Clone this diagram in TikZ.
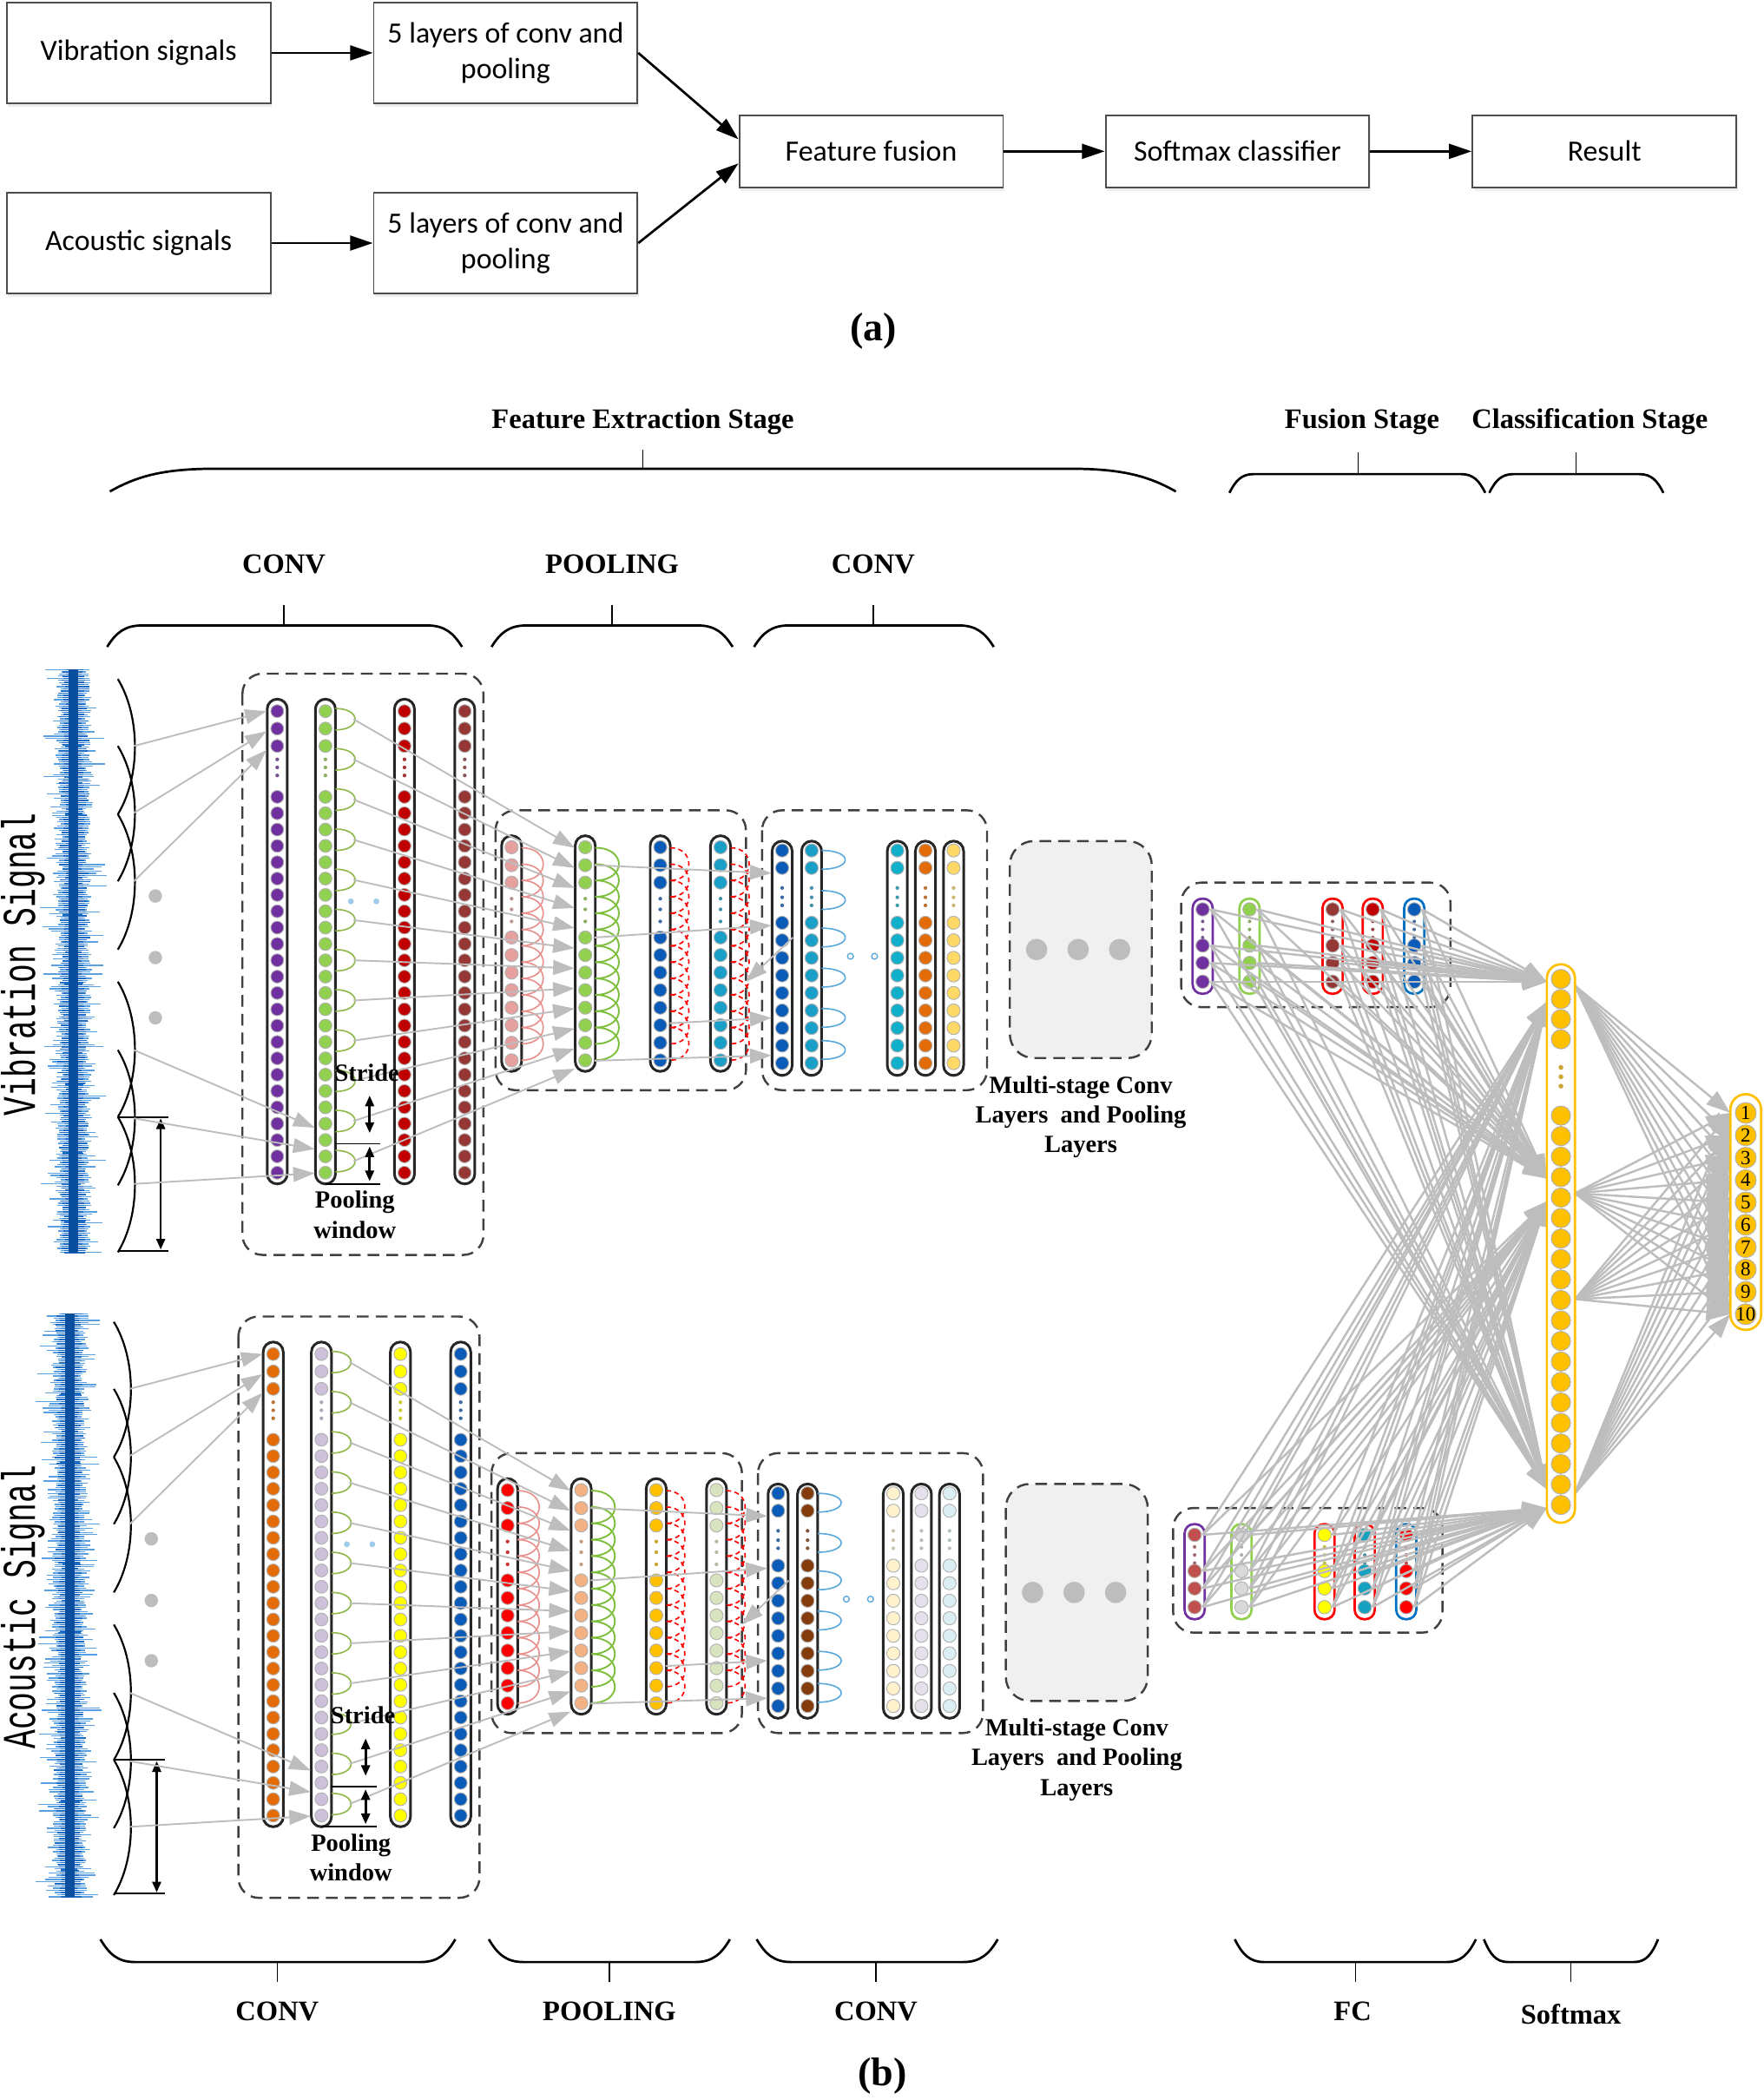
\documentclass[tikz,border=0pt]{standalone}
\usepackage{fontspec}
\usepackage{graphicx}
\setmainfont{Liberation Serif}
\newfontfamily\calfont{Carlito}
\newfontfamily\monofont{Liberation Mono}
\usetikzlibrary{arrows.meta,calc,shadows}

\definecolor{lgray}{HTML}{BDBDBD}
\definecolor{boxedge}{HTML}{404040}
\definecolor{multigray}{HTML}{F0F0F0}
\definecolor{arcgreen}{HTML}{8FB84A}
\definecolor{arcgreentwo}{HTML}{7DBF3C}
\definecolor{arcsalmon}{HTML}{E8908C}
\definecolor{arcblue}{HTML}{5BA8DA}
\definecolor{wavelight}{HTML}{5A9FE0}
\definecolor{wavemid}{HTML}{1A6CC4}
\definecolor{wavedark}{HTML}{0A4E9E}
\definecolor{vpurple}{HTML}{7030A0}
\definecolor{vgreen}{HTML}{92D050}
\definecolor{dred}{HTML}{C00000}
\definecolor{vbrown}{HTML}{953735}
\definecolor{salmonc}{HTML}{E6A09E}
\definecolor{dblue}{HTML}{0B5CB8}
\definecolor{tealone}{HTML}{1AA0C8}
\definecolor{tealtwo}{HTML}{12AFCB}
\definecolor{vorange}{HTML}{E36C09}
\definecolor{lyellow}{HTML}{FFD966}
\definecolor{lavender}{HTML}{CCC0DA}
\definecolor{yel}{HTML}{FFFF00}
\definecolor{bred}{HTML}{FF0000}
\definecolor{lorange}{HTML}{F4B183}
\definecolor{goldc}{HTML}{FFC000}
\definecolor{sage}{HTML}{D7E4BD}
\definecolor{dbrown}{HTML}{843C0C}
\definecolor{cream}{HTML}{FFF2CC}
\definecolor{llav}{HTML}{E6E0EC}
\definecolor{lblue}{HTML}{DAEEF3}
\definecolor{rbrown}{HTML}{C0504D}
\definecolor{lgraytwo}{HTML}{D9D9D9}
\definecolor{fteal}{HTML}{17A0C0}
\definecolor{oblue}{HTML}{0070C0}

\tikzset{
  abox/.style={draw=black!70, line width=0.7pt, fill=white,
    font=\calfont\fontsize{12.5}{15.3}\selectfont, align=center, inner sep=0pt,
    drop shadow={opacity=0.15, shadow xshift=0.6pt, shadow yshift=-1.4pt}},
  aarrow/.style={draw=black, line width=1pt, arrows={-Triangle[length=0.34cm,width=0.22cm]}},
  blbl/.style={font=\bfseries\fontsize{12}{14}\selectfont},
  slbl/.style={font=\bfseries\fontsize{10.5}{12.7}\selectfont, align=center, inner sep=0pt},
  bracep/.style={draw=black, line width=1pt},
  tickln/.style={draw=black, line width=0.5pt},
  dbox/.style={draw=boxedge, line width=0.9pt, dash pattern=on 5pt off 3pt, rounded corners=0.3cm},
  caps/.style={draw=black!85, line width=1.1pt, fill=white, rounded corners=0.15cm},
  neur/.style={draw=black!30, line width=0.35pt},
  glink/.style={draw=lgray, line width=0.7pt, arrows={-Triangle[length=0.32cm,width=0.22cm]}},
  flink/.style={draw=lgray, line width=0.9pt, arrows={-Triangle[length=0.36cm,width=0.25cm]}},
  winarc/.style={draw=black, line width=0.8pt},
  dimarr/.style={draw=black, line width=1pt, arrows={Triangle[length=0.16cm,width=0.13cm]-Triangle[length=0.16cm,width=0.13cm]}},
  rdash/.style={draw=red, line width=0.6pt, dash pattern=on 2pt off 1.5pt},
}

% column: x, ytop, ybot, colour, circle ys, dot ys, half width, radius
\newcommand\ncol[8]{%
  \draw[caps] ({#1-#7},#2) rectangle ({#1+#7},#3);
  \foreach \yy in {#5} \draw[neur,fill=#4] (#1,\yy) circle[radius=#8];
  \foreach \yy in {#6} \fill[#4!60!gray] (#1,\yy) circle[radius=1.4];
}

% brace: x1, x2, y of flat part, y of ends, curve width, tick x, tick end y
\newcommand\brc[7]{%
  \draw[bracep] (#1,#4) .. controls ({#1+0.25*#5},{#3+0.35*(#4-#3)}) and ({#1+0.5*#5},#3) .. ({#1+#5},#3)
     -- ({#2-#5},#3) .. controls ({#2-0.5*#5},#3) and ({#2-0.25*#5},{#3+0.35*(#4-#3)}) .. (#2,#4);
  \draw[tickln] (#6,#3) -- (#6,#7);
}

% waveform: x centre, y top, count, seed
\newcommand\wave[4]{%
  \pgfmathsetseed{#4}%
  \foreach \i in {0,...,#3} {%
    \pgfmathsetmacro\yy{#2+1.6*\i}%
    \pgfmathsetmacro\wl{8+5*rnd+13*pow(rnd,5)}%
    \pgfmathsetmacro\wr{8+5*rnd+13*pow(rnd,5)}%
    \draw[wavelight,line width=0.5pt] ({#1-\wl},\yy) -- ({#1+\wr},\yy);
  }%
  \foreach \i in {0,...,#3} {%
    \pgfmathsetmacro\yy{#2+1.6*\i}%
    \pgfmathsetmacro\wl{5.5+3*rnd+4*pow(rnd,4)}%
    \pgfmathsetmacro\wr{5.5+3*rnd+4*pow(rnd,4)}%
    \draw[wavemid,line width=0.55pt] ({#1-\wl},\yy) -- ({#1+\wr},\yy);
  }%
  \fill[wavedark] ({#1-3.5},#2) rectangle ({#1+3.5},{#2+1.6*#3});
}

\newcommand\branch[1]{%
  \draw[dbox] (181,503) rectangle (361,937);
  \foreach \ta/\tb in {507/608,557/658,608/709,733/834,784/885,834/935}
    \draw[winarc] (88,\ta) .. controls (105,{\ta+28}) and (105,{\tb-28}) .. (88,\tb);
  \foreach \yy in {669,715,760} \fill[lgray] (116,\yy) circle[radius=5];
  \draw[line width=0.7pt] (88,834) -- (126,834) (88,934) -- (126,934);
  \draw[dimarr] (120,835) -- (120,933);
  \ncol{207}{522}{884}{cA}{531,544,557,595,607.2,...,877}{567,573,579}{7.5}{4.8}
  \ncol{243}{522}{884}{cB}{531,544,557,595,607.2,...,877}{567,573,579}{7.5}{4.8}
  \ncol{302}{522}{884}{cC}{531,544,557,595,607.2,...,877}{567,573,579}{7.5}{4.8}
  \ncol{347}{522}{884}{cD}{531,544,557,595,607.2,...,877}{567,573,579}{7.5}{4.8}
  \foreach \k in {0,...,11}
    \draw[arcgreen,line width=0.6pt] (250.5,{529+30*\k}) .. controls (270,{529+30*\k}) and (270,{545+30*\k}) .. (250.5,{545+30*\k});
  \fill[arcblue!60] (262,673) circle[radius=2.2] (281,673) circle[radius=2.2];
  % pooling box
  \draw[dbox] (370,605) rectangle (557,814);
  \ncol{382}{624}{800}{pA}{632.6,646,659,700,713.1,...,793}{671,679,688}{7.5}{4.9}
  \ncol{437}{624}{800}{pB}{632.6,646,659,700,713.1,...,793}{671,679,688}{7.5}{4.9}
  \ncol{493}{624}{800}{pC}{632.6,646,659,700,713.1,...,793}{671,679,688}{7.5}{4.9}
  \ncol{538}{624}{800}{pD}{632.6,646,659,700,713.1,...,793}{671,679,688}{7.5}{4.9}
  \foreach \jj in {0,...,11} {%
    \pgfmathsetmacro\ya{633+12.2*\jj}\pgfmathsetmacro\yb{\ya+24.4}%
    \draw[arcsalmon,line width=0.6pt] (389.5,\ya) .. controls (411,\ya) and (411,\yb) .. (389.5,\yb);
    \draw[arcgreentwo,line width=0.7pt] (444.5,\ya) .. controls (468,\ya) and (468,\yb) .. (444.5,\yb);
    \draw[rdash] (500.5,\ya) .. controls (519,\ya) and (519,\yb) .. (500.5,\yb);
    \draw[rdash] (545.5,\ya) .. controls (564,\ya) and (564,\yb) .. (545.5,\yb);
  }
  % second conv box
  \draw[dbox] (569,605) rectangle (737,814);
  \ncol{584}{628}{803}{qA}{635,648,689,702.1,...,795}{663,670,676}{7.5}{4.9}
  \ncol{606}{628}{803}{qB}{635,648,689,702.1,...,795}{663,670,676}{7.5}{4.9}
  \ncol{670}{628}{803}{qC}{635,648,689,702.1,...,795}{663,670,676}{7.5}{4.9}
  \ncol{691}{628}{803}{qD}{635,648,689,702.1,...,795}{663,670,676}{7.5}{4.9}
  \ncol{712}{628}{803}{qE}{635,648,689,702.1,...,795}{663,670,676}{7.5}{4.9}
  \foreach \yc in {642,672,700,730,760,784}
    \draw[arcblue,line width=0.6pt] (613.5,{\yc-7}) .. controls (637,{\yc-7}) and (637,{\yc+7}) .. (613.5,{\yc+7});
  \draw[arcblue,line width=0.5pt] (635,714) circle[radius=2.2] (653,714) circle[radius=2.2];
  % multi-stage box
  \draw[dbox,fill=multigray,rounded corners=0.36cm] (754,628) rectangle (860,790);
  \foreach \xx in {774,805,836} \fill[lgray] (\xx,709) circle[radius=8];
  \node[slbl] (#1multi) at (807,834) {Multi-stage Conv\\Layers\ \ and Pooling\\Layers};
  % links
  \foreach \k in {0,...,11} \draw[glink] (264,{537+30*\k}) -- (429,{633+15*\k});
  \draw[glink] (100,557) -- (199,531);
  \draw[glink] (100,607) -- (199,546);
  \draw[glink] (100,658) -- (199,560);
  \draw[glink] (100,784) -- (235,842);
  \draw[glink] (100,835) -- (235,858);
  \draw[glink] (100,884) -- (235,876);
  \draw[glink] (444,646) -- (576,652);
  \draw[glink] (444,700) -- (576,691);
  \draw[glink] (500,764) -- (576,760);
  \draw[glink] (444,792) -- (576,788);
  \draw[glink] (592,700) -- (557,733);
  % stride and pooling window
  \node[slbl] (#1stride) at (274,801) {Stride};
  \draw[dimarr] (276,818) -- (276,846);
  \draw[line width=0.7pt] (250,854) -- (284,854) (243,884) -- (284,884);
  \draw[dimarr] (276,856) -- (276,882);
  \node[slbl] (#1pool) at (265,907) {Pooling\\window};
}

\newcommand\fcpart{%
  \draw[dbox] (882,659) rectangle (1083,752);
  \foreach \xx/\cc/\oo in {898/fA/oA,933/fB/oB,995/fC/oC,1025/fD/oD,1056/fE/oE} {%
    \draw[caps,draw=\oo,line width=1pt,rounded corners=0.14cm] ({\xx-7.5},671) rectangle ({\xx+7.5},742);
    \foreach \yy in {679,706,719,733} \draw[neur,fill=\cc] (\xx,\yy) circle[radius=5];
    \foreach \yy in {688,694,700} \fill[\cc!50!gray] (\xx,\yy) circle[radius=1.3];
  }
}

\begin{document}
\begin{tikzpicture}[x=0.02cm,y=-0.02cm]
\useasboundingbox (0,0) rectangle (1317,1568);
\fill[white] (0,0) rectangle (1317,1568);

% ---------------- (a)
\node[abox, minimum width=3.94cm, minimum height=1.5cm] (vib) at (103.5,39.5) {Vibration signals};
\node[abox, minimum width=3.94cm, minimum height=1.5cm] (cva) at (377.5,39.5) {5 layers of conv and\\pooling};
\node[abox, minimum width=3.94cm, minimum height=1.5cm] (acu) at (103.5,181.5) {Acoustic signals};
\node[abox, minimum width=3.94cm, minimum height=1.5cm] (cvb) at (377.5,181.5) {5 layers of conv and\\pooling};
\node[abox, minimum width=3.94cm, minimum height=1.08cm] (fusion) at (650.5,113) {Feature fusion};
\node[abox, minimum width=3.94cm, minimum height=1.08cm] (softmax) at (924,113) {Softmax classifier};
\node[abox, minimum width=3.94cm, minimum height=1.08cm] (result) at (1198,113) {Result};
\draw[aarrow] (vib) -- (cva);
\draw[aarrow] (acu) -- (cvb);
\draw[aarrow] (cva.east) -- ($(fusion.west)+(0,-9)$);
\draw[aarrow] (cvb.east) -- ($(fusion.west)+(0,9)$);
\draw[aarrow] (fusion) -- (softmax);
\draw[aarrow] (softmax) -- (result);
\node[font=\bfseries\fontsize{17}{17}\selectfont] (lbla) at (652,247) {(a)};

% ---------------- braces and stage labels
\node[blbl] (fes) at (480,315) {Feature Extraction Stage};
\node[blbl] (fus) at (1017,315) {Fusion Stage};
\node[blbl] (cls) at (1187,315) {Classification Stage};
\brc{82}{878}{350}{367}{78}{480}{336}
\brc{918}{1109}{354}{368}{18}{1014}{338}
\brc{1112}{1242}{354}{368}{18}{1177}{338}
\node[blbl] (tc1) at (212,421) {CONV};
\node[blbl] (tp) at (457,421) {POOLING};
\node[blbl] (tc2) at (652,421) {CONV};
\brc{80}{345}{467}{483}{26}{212}{452}
\brc{367}{547}{467}{483}{26}{457}{452}
\brc{563}{742}{467}{483}{26}{652}{452}
\brc{75}{340}{1465}{1448}{26}{207}{1480}
\brc{365}{545}{1465}{1448}{26}{455}{1480}
\brc{565}{745}{1465}{1448}{26}{654}{1480}
\brc{922}{1102}{1465}{1448}{22}{1012}{1480}
\brc{1108}{1238}{1465}{1448}{18}{1173}{1480}
\node[blbl] (bc1) at (207,1502) {CONV};
\node[blbl] (bp) at (455,1502) {POOLING};
\node[blbl] (bc2) at (654,1502) {CONV};
\node[blbl] (bfc) at (1010,1502) {FC};
\node[blbl] (bsm) at (1173,1504) {Softmax};
\node[font=\bfseries\fontsize{17}{17}\selectfont] (lblb) at (659,1550) {(b)};

% ---------------- signals
\wave{55}{500}{272}{11}
\wave{52}{981}{272}{23}
\node[rotate=90, inner sep=0pt] (vsig) at (17,720) {\monofont\fontsize{20}{20}\selectfont\scalebox{0.67}[1]{Vibration Signal}};
\node[rotate=90, inner sep=0pt] (asig) at (17,1200) {\monofont\fontsize{20}{20}\selectfont\scalebox{0.67}[1]{Acoustic Signal}};

% ---------------- vibration branch
\begin{scope}
  \colorlet{cA}{vpurple}\colorlet{cB}{vgreen}\colorlet{cC}{dred}\colorlet{cD}{vbrown}
  \colorlet{pA}{salmonc}\colorlet{pB}{vgreen}\colorlet{pC}{dblue}\colorlet{pD}{tealone}
  \colorlet{qA}{dblue}\colorlet{qB}{tealone}\colorlet{qC}{tealtwo}\colorlet{qD}{vorange}\colorlet{qE}{lyellow}
  \branch{v}
\end{scope}
% ---------------- acoustic branch
\begin{scope}[shift={(-3,480)}]
  \colorlet{cA}{vorange}\colorlet{cB}{lavender}\colorlet{cC}{yel}\colorlet{cD}{dblue}
  \colorlet{pA}{bred}\colorlet{pB}{lorange}\colorlet{pC}{goldc}\colorlet{pD}{sage}
  \colorlet{qA}{dblue}\colorlet{qB}{dbrown}\colorlet{qC}{cream}\colorlet{qD}{llav}\colorlet{qE}{lblue}
  \branch{a}
\end{scope}

% ---------------- FC layers
\begin{scope}
  \colorlet{fA}{vpurple}\colorlet{fB}{vgreen}\colorlet{fC}{vbrown}\colorlet{fD}{dred}\colorlet{fE}{dblue}
  \colorlet{oA}{vpurple}\colorlet{oB}{vgreen}\colorlet{oC}{bred}\colorlet{oD}{bred}\colorlet{oE}{oblue}
  \fcpart
\end{scope}
\begin{scope}[shift={(-6,467)}]
  \colorlet{fA}{rbrown}\colorlet{fB}{lgraytwo}\colorlet{fC}{yel}\colorlet{fD}{fteal}\colorlet{fE}{bred}
  \colorlet{oA}{vpurple}\colorlet{oB}{vgreen}\colorlet{oC}{bred}\colorlet{oD}{bred}\colorlet{oE}{oblue}
  \fcpart
\end{scope}

% FC links
\foreach \xx in {898,933,995,1025,1056}
  \foreach \yy in {679,706,719,733}
    \foreach \ty in {733,880,1112}
      \draw[flink] ({\xx+6},\yy) -- (1155,\ty);
\foreach \xx in {892,927,989,1019,1050}
  \foreach \yy in {1146,1173,1186,1200}
    \foreach \ty in {748,897,1126}
      \draw[flink] ({\xx+6},\yy) -- (1155,\ty);
% softmax links
\foreach \sy in {736,891,970,1115}
  \foreach \k in {0,...,9}
    \draw[flink] (1176,\sy) -- (1292,{831+16.7*\k});

% big column
\draw[caps,draw=goldc,line width=1pt,rounded corners=0.21cm] (1155,720) rectangle (1176,1137);
\foreach \yy in {731,746,761,776} \draw[neur,fill=goldc] (1165.5,\yy) circle[radius=7.2];
\foreach \yy in {797,804,811} \fill[goldc!60!gray] (1165.5,\yy) circle[radius=1.8];
\foreach \k in {0,...,19} \draw[neur,fill=goldc] (1165.5,{833+15.3*\k}) circle[radius=7.2];

% output column
\draw[caps,draw=goldc,line width=1pt,rounded corners=0.23cm] (1292,817) rectangle (1315,993);
\foreach \k in {1,...,10} {
  \draw[neur,fill=goldc] (1303.5,{831+16.7*(\k-1)}) circle[radius=7.8];
  \node[font=\fontsize{8.5}{9}\selectfont, inner sep=0pt] (out\k) at (1303.5,{831+16.7*(\k-1)}) {\k};
}
\end{tikzpicture}
\end{document}
